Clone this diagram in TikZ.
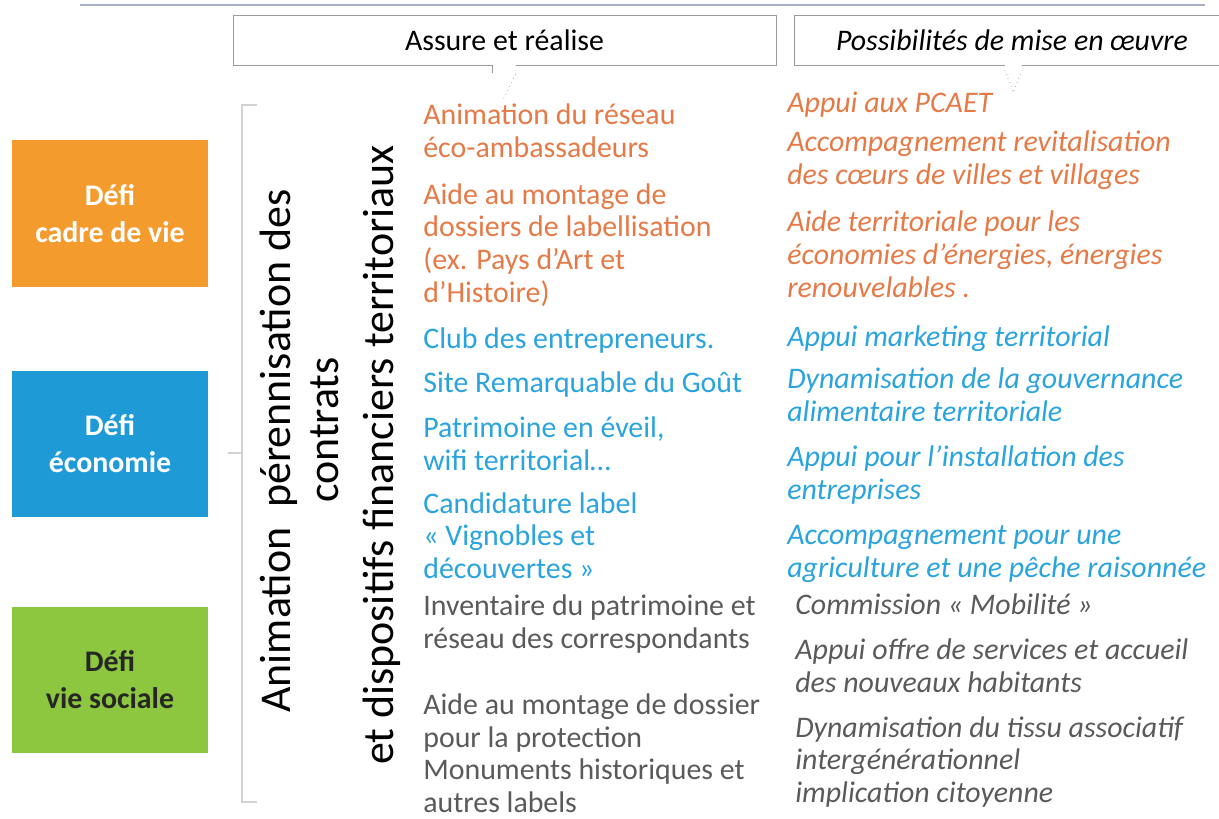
\documentclass[tikz,border=0pt]{standalone}
\usepackage{fontspec}
\setmainfont{Carlito}
\usetikzlibrary{calc}
\definecolor{defiorange}{HTML}{F39C2D}
\definecolor{defiblue}{HTML}{1E9AD6}
\definecolor{defigreen}{HTML}{8CC73F}
\definecolor{txtorange}{HTML}{E67A47}
\definecolor{txtblue}{HTML}{2AA4DE}
\definecolor{txtgrey}{HTML}{5A5A5A}
\definecolor{rulegrey}{HTML}{9A9A9A}
\definecolor{topblue}{HTML}{A9AFC8}

\begin{document}
\begin{tikzpicture}[x=0.02cm,y=-0.02cm,
  defi/.style={minimum width=3.92cm,minimum height=2.94cm,inner sep=0pt,
    align=center,font=\fontsize{17}{21}\selectfont\bfseries},
  hdr/.style={draw=rulegrey,line width=0.5pt,minimum height=1cm,inner sep=0pt,
    font=\fontsize{17}{20}\selectfont},
  act/.style={anchor=base west,align=left,inner sep=0pt,
    font=\fontsize{17}{18.5}\selectfont},
  poss/.style={act,font=\fontsize{17}{18.5}\selectfont\itshape},
  anim/.style={rotate=90,anchor=base,inner sep=0pt,font=\fontsize{25}{30}\selectfont},
  ptr/.style={rulegrey!70,line width=0.5pt,dotted},
  brk/.style={rulegrey!45,line width=0.6pt}]
 \useasboundingbox[fill=white] (0,0) rectangle (1219,818);
 \draw[topblue,line width=0.8pt] (80,5) -- (1205,5);

 % en-tetes
 \node[hdr,minimum width=10.86cm] (hdrA) at (504.5,40) {Assure et réalise};
 \node[hdr,minimum width=8.7cm] (hdrB) at (1012,40) {\itshape Possibilités de mise en œuvre};
 \coordinate (tipA) at (503,100);
 \coordinate (tipB) at (1013,92);
 \draw[white,line width=1.5pt] ($(hdrA.south)+(-12.5,0)$) -- ($(hdrA.south)+(11.5,0)$);
 \draw[white,line width=1.5pt] ($(hdrB.south)+(-7,0)$) -- ($(hdrB.south)+(10,0)$);
 \draw[rulegrey,line width=0.5pt] ($(hdrA.south)+(-12.5,0)$) -- ++(0,8);
 \draw[ptr] ($(hdrA.south)+(11.5,0)$) -- ++(0,8) -- (tipA);
 \draw[ptr] ($(hdrB.south)+(-7,0)$) -- ++(0,5) -- (tipB);
 \draw[ptr] ($(hdrB.south)+(10,0)$) -- ++(0,5) -- (tipB);

 % defis
 \node[defi,fill=defiorange,text=white] (cadre) at (110,213.5) {Défi\\cadre de vie};
 \node[defi,fill=defiblue,text=white] (eco) at (110,444) {Défi\\économie};
 \node[defi,fill=defigreen,text=black!85] (social) at (110,680) {Défi\\vie sociale};

 % accolade
 \draw[brk] (257,105) -- (242,105) -- (242,802) -- (257,802);
 \draw[brk] (242,453) -- (228,453);

 \node[anim] (anim1) at (290,451) {Animation\ \ pérennisation des};
 \node[anim] (anim2) at (338,430) {contrats};
 \node[anim] (anim3) at (393,455) {et dispositifs financiers territoriaux};

 % assure et realise (y = ligne de base de la derniere ligne)
 \node[act,text=txtorange] (a1) at (423,157) {Animation du réseau\\éco-ambassadeurs};
 \node[act,text=txtorange] (a2) at (423,302) {Aide au montage de\\dossiers de labellisation\\(ex. Pays d'Art et\\d'Histoire)};
 \node[act,text=txtblue] (a3) at (423,348) {Club des entrepreneurs.};
 \node[act,text=txtblue] (a4) at (423,392) {Site Remarquable du Goût};
 \node[act,text=txtblue] (a5) at (423,470) {Patrimoine en éveil,\\wifi territorial…};
 \node[act,text=txtblue] (a6) at (423,578) {Candidature label\\« Vignobles et\\découvertes »};
 \node[act,text=txtgrey] (a7) at (423,648) {Inventaire du patrimoine et\\réseau des correspondants};
 \node[act,text=txtgrey] (a8) at (423,812) {Aide au montage de dossier\\pour la protection\\Monuments historiques et\\autres labels};

 % possibilites
 \node[poss,text=txtorange] (p1) at (787,112) {Appui aux PCAET};
 \node[poss,text=txtorange] (p2) at (787,184) {Accompagnement revitalisation\\des cœurs de villes et villages};
 \node[poss,text=txtorange] (p3) at (787,297) {Aide territoriale pour les\\économies d'énergies, énergies\\renouvelables .};
 \node[poss,text=txtblue] (p4) at (787,346) {Appui marketing territorial};
 \node[poss,text=txtblue] (p5) at (787,421) {Dynamisation de la gouvernance\\alimentaire territoriale};
 \node[poss,text=txtblue] (p6) at (787,499) {Appui pour l'installation des\\entreprises};
 \node[poss,text=txtblue] (p7) at (787,577) {Accompagnement pour une\\agriculture et une pêche raisonnée};
 \node[poss,text=txtgrey] (p8) at (795,614) {Commission « Mobilité »};
 \node[poss,text=txtgrey] (p9) at (795,692) {Appui offre de services et accueil\\des nouveaux habitants};
 \node[poss,text=txtgrey] (p10) at (795,802) {Dynamisation du tissu associatif\\intergénérationnel\\implication citoyenne};
\end{tikzpicture}
\end{document}
